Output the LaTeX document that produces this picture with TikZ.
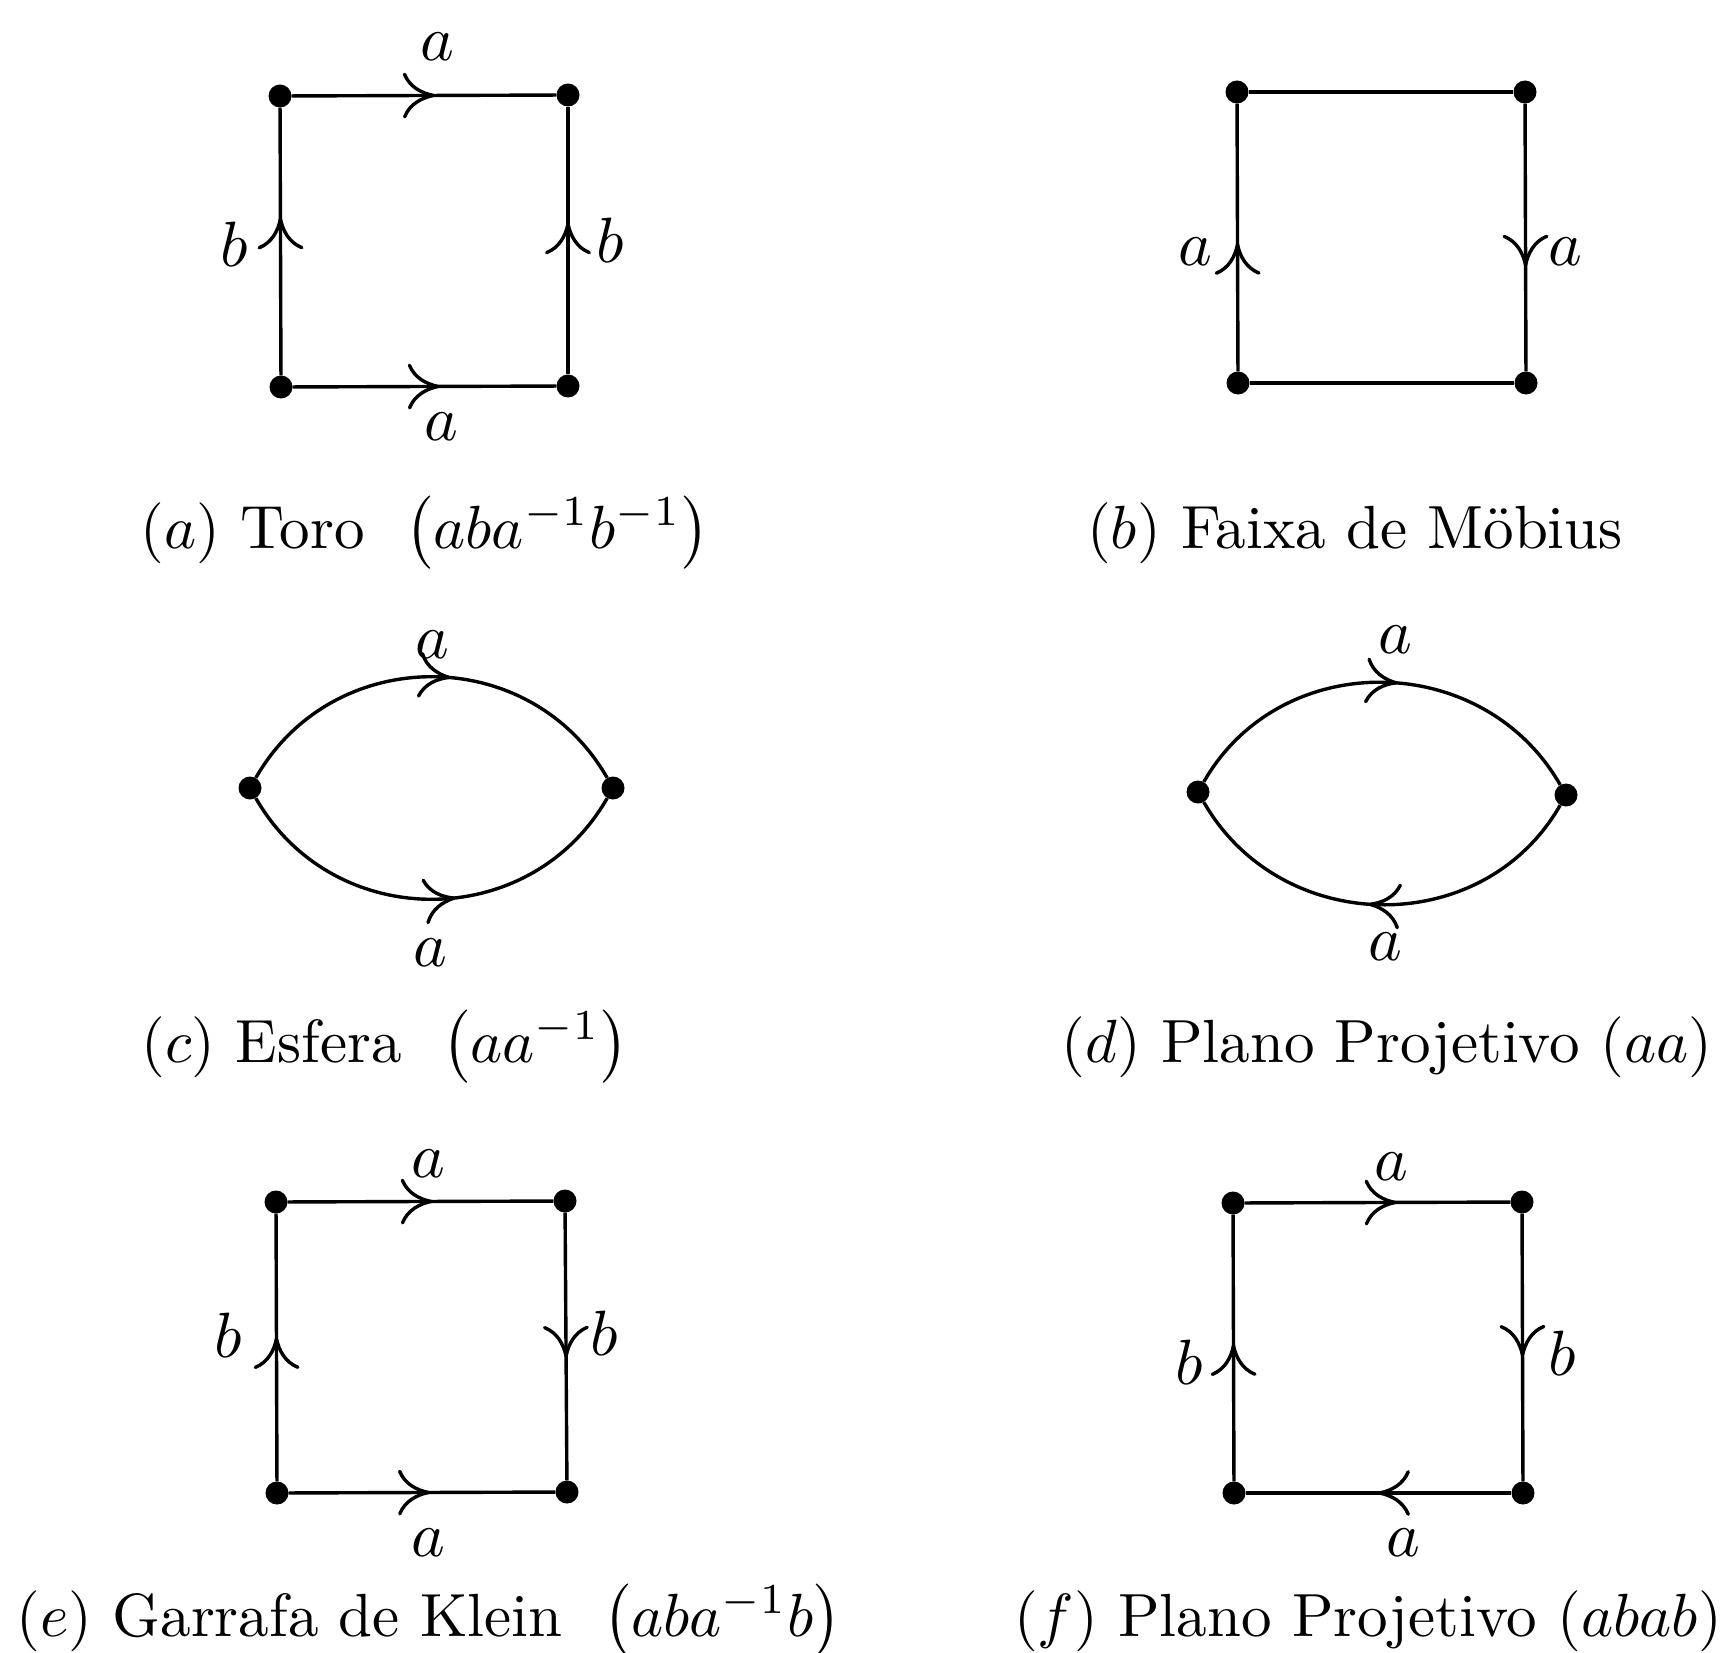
\documentclass[tikz,border=0pt]{standalone}
\usetikzlibrary{arrows.meta,decorations.markings}
\tikzset{
  edge/.style={line width=3.4pt},
  vtx/.style={circle,fill=black,inner sep=0pt,minimum size=23pt},
  lbl/.style={inner sep=0pt,scale=6.4},
  capt/.style={inner sep=0pt,scale=6.1,anchor=base},
  arr/.style={postaction={decorate},decoration={markings,mark=at position #1 with {\arrow{Computer Modern Rightarrow[length=32pt,width=46pt]}}}},
}
\begin{document}
\begin{tikzpicture}[x=1pt,y=-1pt]
\useasboundingbox (0,0) rectangle (1730,1653);
% (a) Toro
\node[vtx] (a1) at (280,96) {};
\node[vtx] (a2) at (568,95) {};
\node[vtx] (a3) at (568,386) {};
\node[vtx] (a4) at (281,387) {};
\draw[edge,arr=0.541] (a1) -- (a2);
\draw[edge,arr=0.558] (a4) -- (a3);
\draw[edge,arr=0.590] (a4) -- (a1);
\draw[edge,arr=0.568] (a3) -- (a2);
\node[lbl] (la1) at (437,47) {$a$};
\node[lbl] (la2) at (234,244) {$b$};
\node[lbl] (la3) at (610,240) {$b$};
\node[lbl] (la4) at (441,427) {$a$};
\node[capt] (capa) at (425,548) {$(a)$ Toro\ \ $\bigl(aba^{-1}b^{-1}\bigr)$};
% (b) Mobius
\node[vtx] (b1) at (1237,92) {};
\node[vtx] (b2) at (1525,92) {};
\node[vtx] (b3) at (1526,383) {};
\node[vtx] (b4) at (1238,383) {};
\draw[edge] (b1) -- (b2);
\draw[edge] (b4) -- (b3);
\draw[edge,arr=0.480] (b4) -- (b1);
\draw[edge,arr=0.609] (b2) -- (b3);
\node[lbl] (lb1) at (1195,252) {$a$};
\node[lbl] (lb2) at (1565,252) {$a$};
\node[capt] (capb) at (1355,548) {$(b)$ Faixa de M\"obius};
% (c) Esfera
\node[vtx] (c1) at (250,788) {};
\node[vtx] (c2) at (613,788) {};
\draw[edge,arr=0.545] (c1) .. controls +(83,-145) and +(-83,-145) .. (c2);
\draw[edge,arr=0.557] (c1) .. controls +(83,145) and +(-83,145) .. (c2);
\node[lbl] (lc1) at (432,645) {$a$};
\node[lbl] (lc2) at (430,953) {$a$};
\node[capt] (capc) at (385,1062) {$(c)$ Esfera\ \ $\bigl(aa^{-1}\bigr)$};
% (d) Plano projetivo
\node[vtx] (d1) at (1198,792) {};
\node[vtx] (d2) at (1566,795) {};
\draw[edge,arr=0.535] (d1) .. controls +(83,-145) and +(-83,-145) .. (d2);
\draw[edge,arr=0.530] (d2) .. controls +(-83,145) and +(83,145) .. (d1);
\node[lbl] (ld1) at (1395,640) {$a$};
\node[lbl] (ld2) at (1385,947) {$a$};
\node[capt] (capd) at (1387,1062) {$(d)$ Plano Projetivo $(aa)$};
% (e) Klein
\node[vtx] (e1) at (276,1202) {};
\node[vtx] (e2) at (565,1201) {};
\node[vtx] (e3) at (567,1492) {};
\node[vtx] (e4) at (277,1493) {};
\draw[edge,arr=0.546] (e1) -- (e2);
\draw[edge,arr=0.530] (e4) -- (e3);
\draw[edge,arr=0.539] (e4) -- (e1);
\draw[edge,arr=0.542] (e2) -- (e3);
\node[lbl] (le1) at (428,1164) {$a$};
\node[lbl] (le2) at (228,1335) {$b$};
\node[lbl] (le3) at (604,1333) {$b$};
\node[lbl] (le4) at (428,1543) {$a$};
\node[capt] (cape) at (429,1636) {$(e)$ Garrafa de Klein\ \ $\bigl(aba^{-1}b\bigr)$};
% (f) Plano projetivo
\node[vtx] (f1) at (1233,1203) {};
\node[vtx] (f2) at (1522,1202) {};
\node[vtx] (f3) at (1523,1493) {};
\node[vtx] (f4) at (1234,1493) {};
\draw[edge,arr=0.572] (f1) -- (f2);
\draw[edge,arr=0.502] (f3) -- (f4);
\draw[edge,arr=0.515] (f4) -- (f1);
\draw[edge,arr=0.535] (f2) -- (f3);
\node[lbl] (lf1) at (1391,1167) {$a$};
\node[lbl] (lf2) at (1189,1362) {$b$};
\node[lbl] (lf3) at (1562,1353) {$b$};
\node[lbl] (lf4) at (1403,1543) {$a$};
\node[capt] (capf) at (1368,1636) {$(f)$ Plano Projetivo $(abab)$};
\end{tikzpicture}
\end{document}
